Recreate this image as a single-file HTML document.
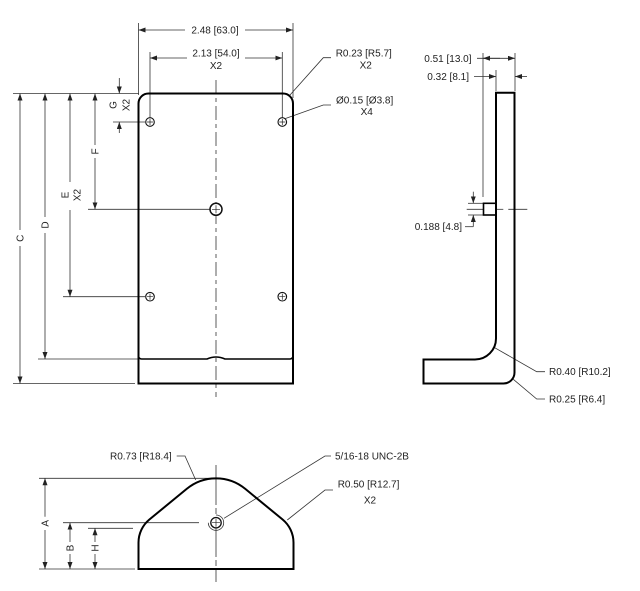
<!DOCTYPE html>
<html>
<head>
<meta charset="utf-8">
<style>
  html,body{margin:0;padding:0;background:#fff;}
  svg{display:block;}
  text{font-family:"Liberation Sans",Arial,sans-serif;font-size:10px;fill:#222;}
</style>
</head>
<body>
<svg width="640" height="591" viewBox="0 0 640 591" xmlns="http://www.w3.org/2000/svg">
  <defs>
    <marker id="ar" markerUnits="userSpaceOnUse" markerWidth="8" markerHeight="6" refX="7" refY="2.5" orient="auto">
      <path d="M0,0 L7,2.5 L0,5 Z" fill="#222"/>
    </marker>
  </defs>

  <!-- ================= FRONT VIEW ================= -->
  <g stroke="#333" stroke-width="0.8" fill="none">
    <!-- extension lines top -->
    <line x1="138.5" y1="23" x2="138.5" y2="95"/>
    <line x1="293" y1="23" x2="293" y2="98"/>
    <line x1="150" y1="52" x2="150" y2="118"/>
    <line x1="282.3" y1="52" x2="282.3" y2="118"/>
    <!-- 2.48 dim -->
    <line x1="185" y1="30" x2="138.5" y2="30" marker-end="url(#ar)"/>
    <line x1="245" y1="30" x2="293" y2="30" marker-end="url(#ar)"/>
    <!-- 2.13 dim -->
    <line x1="187" y1="58" x2="150" y2="58" marker-end="url(#ar)"/>
    <line x1="245" y1="58" x2="282.3" y2="58" marker-end="url(#ar)"/>

    <!-- left extension lines -->
    <line x1="13" y1="93.5" x2="139" y2="93.5"/>
    <line x1="38" y1="359" x2="138" y2="359"/>
    <line x1="13" y1="383.5" x2="135" y2="383.5"/>
    <line x1="63" y1="296.7" x2="145" y2="296.7"/>
    <line x1="88" y1="209.3" x2="210" y2="209.3"/>
    <line x1="113" y1="122" x2="145" y2="122"/>

    <!-- C -->
    <line x1="20" y1="230" x2="20" y2="93.5" marker-end="url(#ar)"/>
    <line x1="20" y1="246" x2="20" y2="383.5" marker-end="url(#ar)"/>
    <!-- D -->
    <line x1="45" y1="217" x2="45" y2="93.5" marker-end="url(#ar)"/>
    <line x1="45" y1="233" x2="45" y2="359" marker-end="url(#ar)"/>
    <!-- E -->
    <line x1="70" y1="182" x2="70" y2="93.5" marker-end="url(#ar)"/>
    <line x1="70" y1="210" x2="70" y2="296.7" marker-end="url(#ar)"/>
    <!-- F -->
    <line x1="95" y1="145" x2="95" y2="93.5" marker-end="url(#ar)"/>
    <line x1="95" y1="158" x2="95" y2="209.3" marker-end="url(#ar)"/>
    <!-- G -->
    <line x1="119.3" y1="78" x2="119.3" y2="93.5" marker-end="url(#ar)"/>
    <line x1="119.3" y1="133" x2="119.3" y2="122" marker-end="url(#ar)"/>

    <!-- center line -->
    <line x1="216" y1="80" x2="216" y2="397" stroke-dasharray="14 4 4 4"/>

    <!-- leaders top right -->
    <polyline points="331,57.7 323.3,57.7 290,95"/>
    <polyline points="331,105 323.3,105 285.5,118.5"/>
  </g>

  <!-- plate outline -->
  <g stroke="#000" stroke-width="2" fill="none">
    <path d="M138.5,356 L138.5,103.5 A10,10 0 0 1 148.5,93.5 L283,93.5 A10,10 0 0 1 293,103.5 L293,356"/>
    <path d="M138.5,356 A3,3 0 0 0 141.5,359 L207,359 Q216,355 225,359 L290,359 A3,3 0 0 0 293,356" stroke-width="1.6"/>
    <path d="M138.5,356 L138.5,383.5 L293,383.5 L293,356"/>
  </g>

  <!-- holes -->
  <g stroke="#111" stroke-width="1.1" fill="#fff">
    <circle cx="150" cy="122" r="4.3"/>
    <circle cx="282.3" cy="122" r="4.3"/>
    <circle cx="150" cy="296.7" r="4.3"/>
    <circle cx="282.3" cy="296.7" r="4.3"/>
    <circle cx="216" cy="209.3" r="6" stroke-width="1.5"/>
  </g>
  <g stroke="#222" stroke-width="0.7">
    <path d="M147,122 H153 M150,119 V125"/>
    <path d="M279.3,122 H285.3 M282.3,119 V125"/>
    <path d="M147,296.7 H153 M150,293.7 V299.7"/>
    <path d="M279.3,296.7 H285.3 M282.3,293.7 V299.7"/>
    <path d="M212,209.3 H220 M216,205.3 V213.3"/>
  </g>

  <!-- front view text -->
  <text x="215" y="33.3" text-anchor="middle">2.48 [63.0]</text>
  <text x="216" y="56.5" text-anchor="middle">2.13 [54.0]</text>
  <text x="216" y="69" text-anchor="middle">X2</text>
  <text x="335.7" y="56.7">R0.23 [R5.7]</text>
  <text x="365.7" y="68.3" text-anchor="middle">X2</text>
  <text x="336" y="103.3">Ø0.15 [Ø3.8]</text>
  <text x="366.7" y="115" text-anchor="middle">X4</text>

  <text transform="translate(20,238.3) rotate(-90)" text-anchor="middle" y="3.6">C</text>
  <text transform="translate(45,225) rotate(-90)" text-anchor="middle" y="3.6">D</text>
  <text transform="translate(65,195) rotate(-90)" text-anchor="middle" y="3.6">E</text>
  <text transform="translate(77,195) rotate(-90)" text-anchor="middle" y="3.6">X2</text>
  <text transform="translate(95,151.5) rotate(-90)" text-anchor="middle" y="3.6">F</text>
  <text transform="translate(113,105) rotate(-90)" text-anchor="middle" y="3.6">G</text>
  <text transform="translate(126,105) rotate(-90)" text-anchor="middle" y="3.6">X2</text>

  <!-- ================= SIDE VIEW ================= -->
  <g stroke="#333" stroke-width="0.8" fill="none">
    <line x1="483" y1="53" x2="483" y2="197"/>
    <line x1="515" y1="53" x2="515" y2="91"/>
    <line x1="496" y1="70" x2="496" y2="91"/>
    <!-- 0.51 -->
    <line x1="477" y1="58.3" x2="515" y2="58.3" marker-end="url(#ar)"/>
    <line x1="500" y1="58.3" x2="483" y2="58.3" marker-end="url(#ar)"/>
    <!-- 0.32 -->
    <line x1="474" y1="76.5" x2="496" y2="76.5" marker-end="url(#ar)"/>
    <line x1="527" y1="76.5" x2="515" y2="76.5" marker-end="url(#ar)"/>
    <!-- centre line boss -->
    <line x1="466.7" y1="209.3" x2="483" y2="209.3"/>
    <line x1="497" y1="209.3" x2="503.3" y2="209.3"/>
    <line x1="508.3" y1="209.3" x2="527.3" y2="209.3"/>
    <!-- 0.188 -->
    <line x1="468" y1="203.3" x2="483" y2="203.3"/>
    <line x1="468" y1="215" x2="483" y2="215"/>
    <line x1="473.3" y1="191.7" x2="473.3" y2="203.3" marker-end="url(#ar)"/>
    <line x1="473.3" y1="226.7" x2="473.3" y2="215" marker-end="url(#ar)"/>
    <line x1="465" y1="226.7" x2="473.3" y2="226.7"/>
    <!-- leaders -->
    <polyline points="494,347.3 536.7,371.7 545,371.7"/>
    <polyline points="513.3,379.3 536.7,399 545,399"/>
  </g>
  <g stroke="#000" stroke-width="2" fill="none">
    <path d="M496,92.7 H514.5 V372.5 A11,11 0 0 1 503.5,383.5 H423.5 V359.5 H475 A21,21 0 0 0 496,338.5 Z"/>
    <rect x="483.5" y="203.3" width="12.5" height="11.7" stroke-width="1.6"/>
  </g>
  <text x="471.5" y="61.8" text-anchor="end">0.51 [13.0]</text>
  <text x="469" y="80" text-anchor="end">0.32 [8.1]</text>
  <text x="462" y="230.2" text-anchor="end">0.188 [4.8]</text>
  <text x="549" y="375">R0.40 [R10.2]</text>
  <text x="549" y="402.6">R0.25 [R6.4]</text>

  <!-- ================= BOTTOM VIEW ================= -->
  <g stroke="#333" stroke-width="0.8" fill="none">
    <line x1="39" y1="478.3" x2="212" y2="478.3"/>
    <line x1="39" y1="569" x2="135" y2="569"/>
    <line x1="88" y1="528.3" x2="133" y2="528.3"/>
    <line x1="63" y1="522.7" x2="199" y2="522.7"/>
    <line x1="216" y1="465" x2="216" y2="582" stroke-dasharray="40 3 6 3"/>
    <!-- A -->
    <line x1="45" y1="516.7" x2="45" y2="478.3" marker-end="url(#ar)"/>
    <line x1="45" y1="530" x2="45" y2="569" marker-end="url(#ar)"/>
    <!-- B -->
    <line x1="70" y1="542" x2="70" y2="522.7" marker-end="url(#ar)"/>
    <line x1="70" y1="554" x2="70" y2="569" marker-end="url(#ar)"/>
    <!-- H -->
    <line x1="95" y1="542" x2="95" y2="528.3" marker-end="url(#ar)"/>
    <line x1="95" y1="554" x2="95" y2="569" marker-end="url(#ar)"/>
    <!-- leaders -->
    <polyline points="176.7,456 185,456 195.7,480"/>
    <polyline points="331,456 325,456 224,518.3"/>
    <polyline points="333,490 325,490 287.3,520"/>
  </g>
  <path d="M138.5,569 L138.5,542.6 A30,30 0 0 1 149.4,519.5 L186.7,488.9 A46,46 0 0 1 245.3,488.9 L282.6,519.5 A30,30 0 0 1 293.5,542.6 L293.5,569 Z"
        stroke="#000" stroke-width="2" fill="none"/>
  <circle cx="216" cy="522.7" r="5.2" stroke="#111" stroke-width="1.3" fill="#fff"/>
  <path d="M216,515 A7.7,7.7 0 1 1 208.3,522.7" stroke="#333" stroke-width="0.8" fill="none"/>
  <path d="M212,522.7 H220 M216,518.7 V526.7" stroke="#222" stroke-width="0.7"/>

  <text x="171.7" y="459.3" text-anchor="end">R0.73 [R18.4]</text>
  <text x="335" y="459.3">5/16-18 UNC-2B</text>
  <text x="337.7" y="487.7">R0.50 [R12.7]</text>
  <text x="370" y="503.3" text-anchor="middle">X2</text>
  <text transform="translate(45,523.3) rotate(-90)" text-anchor="middle" y="3.6">A</text>
  <text transform="translate(70,548) rotate(-90)" text-anchor="middle" y="3.6">B</text>
  <text transform="translate(95,548) rotate(-90)" text-anchor="middle" y="3.6">H</text>
</svg>
</body>
</html>
